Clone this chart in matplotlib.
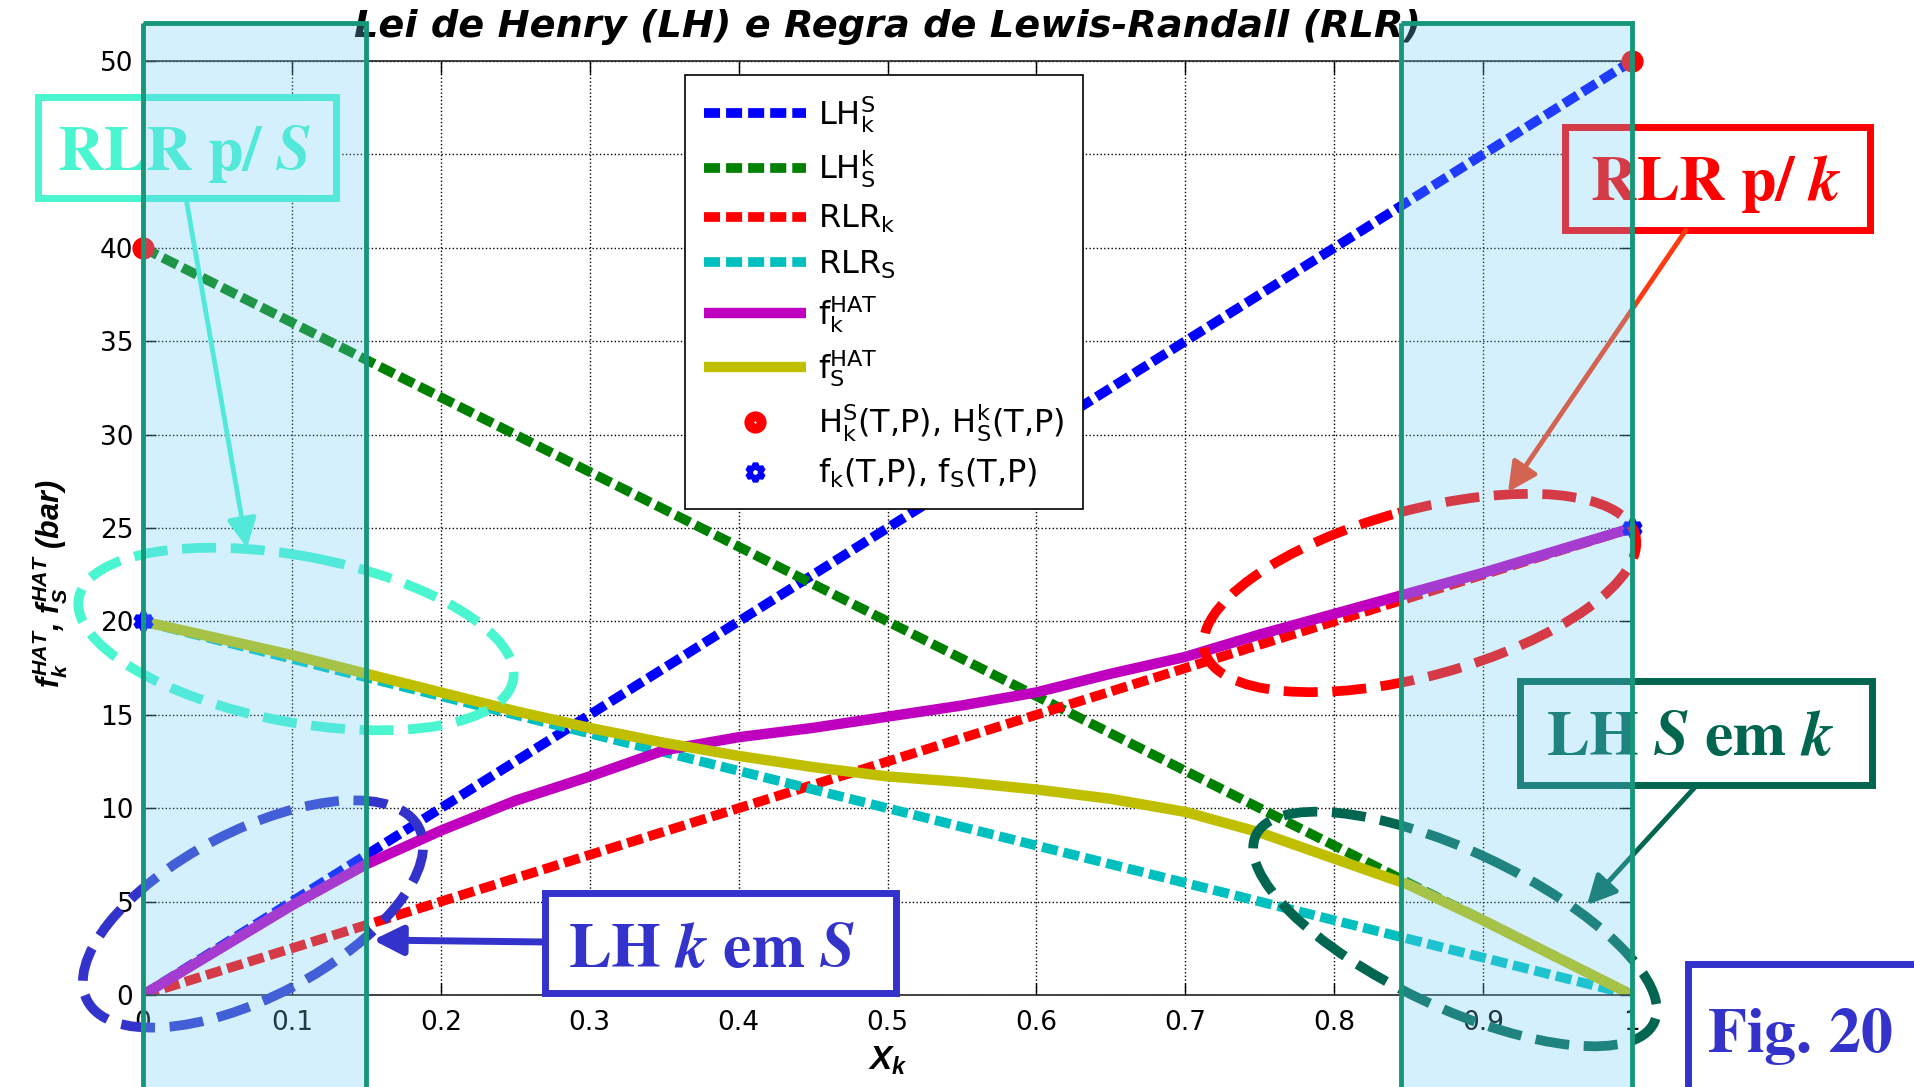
import matplotlib
matplotlib.use("Agg")
import matplotlib.pyplot as plt
from matplotlib.patches import Ellipse, Rectangle, FancyArrowPatch
from matplotlib.transforms import blended_transform_factory

plt.rcParams['font.family'] = ['DejaVu Sans']
plt.rcParams['mathtext.fontset'] = 'custom'
plt.rcParams['mathtext.rm'] = 'DejaVu Sans'
plt.rcParams['mathtext.it'] = 'Liberation Sans:italic:bold'
plt.rcParams['mathtext.bf'] = 'DejaVu Sans:bold'

# ---- data ----
x_ends = [0.0, 1.0]
lh_k_S = [0.0, 50.0]      # Henry's law for k in S
lh_S_k = [40.0, 0.0]      # Henry's law for S in k
rlr_k = [0.0, 25.0]       # Lewis-Randall rule for k
rlr_S = [20.0, 0.0]       # Lewis-Randall rule for S

x_k = [0.0, 0.05, 0.10, 0.15, 0.20, 0.25, 0.30, 0.35, 0.40, 0.45, 0.50,
       0.55, 0.60, 0.65, 0.70, 0.75, 0.80, 0.85, 0.90, 0.95, 1.0]
f_k_hat = [0.0, 2.4, 4.8, 7.0, 8.8, 10.4, 11.7, 13.1, 13.8, 14.3, 14.9,
           15.5, 16.2, 17.2, 18.1, 19.3, 20.4, 21.5, 22.6, 23.8, 25.0]
f_S_hat = [20.0, 19.1, 18.2, 17.2, 16.2, 15.2, 14.3, 13.5, 12.8, 12.2, 11.7,
           11.4, 11.0, 10.5, 9.8, 8.7, 7.3, 5.9, 4.0, 2.0, 0.0]

henry_x = [0.0, 1.0]
henry_y = [40.0, 50.0]
pure_x = [0.0, 1.0]
pure_y = [20.0, 25.0]

x_ticks = [0, 0.1, 0.2, 0.3, 0.4, 0.5, 0.6, 0.7, 0.8, 0.9, 1.0]
x_tick_labels = ['0', '0.1', '0.2', '0.3', '0.4', '0.5', '0.6', '0.7', '0.8', '0.9', '1']
y_ticks = [0, 5, 10, 15, 20, 25, 30, 35, 40, 45, 50]
y_tick_labels = ['0', '5', '10', '15', '20', '25', '30', '35', '40', '45', '50']

legend_labels = [
    'LH$_\\mathrm{k}^\\mathrm{S}$',
    'LH$_\\mathrm{S}^\\mathrm{k}$',
    'RLR$_\\mathrm{k}$',
    'RLR$_\\mathrm{S}$',
    'f$_\\mathrm{k}^\\mathrm{HAT}$',
    'f$_\\mathrm{S}^\\mathrm{HAT}$',
    'H$_\\mathrm{k}^\\mathrm{S}$(T,P), H$_\\mathrm{S}^\\mathrm{k}$(T,P)',
    'f$_\\mathrm{k}$(T,P), f$_\\mathrm{S}$(T,P)',
]

# shaded composition ranges
zone_left = (0.0, 0.15)
zone_right = (0.845, 1.0)

# ---- figure ----
W, H = 1914, 1087
fig = plt.figure(figsize=(W / 100, H / 100), dpi=100)
fig.patch.set_facecolor('white')

ax_l, ax_r, ax_t, ax_b = 143, 1632, 61, 995
ax = fig.add_axes([ax_l / W, 1 - ax_b / H, (ax_r - ax_l) / W, (ax_b - ax_t) / H])

dash = (0, (1.65, 0.62))
lw = 7
l1, = ax.plot(x_ends, lh_k_S, color=(0, 0, 1), lw=lw, ls=dash, dash_capstyle='butt')
l2, = ax.plot(x_ends, lh_S_k, color=(0, 0.5, 0), lw=lw, ls=dash, dash_capstyle='butt')
l3, = ax.plot(x_ends, rlr_k, color=(1, 0, 0), lw=lw, ls=dash, dash_capstyle='butt')
l4, = ax.plot(x_ends, rlr_S, color=(0, 0.75, 0.75), lw=lw, ls=dash, dash_capstyle='butt')
l5, = ax.plot(x_k, f_k_hat, color=(0.75, 0, 0.75), lw=lw + 0.5,
              solid_capstyle='butt', solid_joinstyle='round')
l6, = ax.plot(x_k, f_S_hat, color=(0.75, 0.75, 0), lw=lw + 0.5,
              solid_capstyle='butt', solid_joinstyle='round')
l7, = ax.plot(henry_x, henry_y, ls='none', marker='o', ms=9, mew=7,
              mfc='white', mec=(1, 0, 0), clip_on=False, zorder=5)
l8, = ax.plot(pure_x, pure_y, ls='none', marker=(6, 1, 0), ms=13, mew=4,
              mfc='white', mec=(0, 0, 1), clip_on=False, zorder=5)

ax.set_xlim(0, 1)
ax.set_ylim(0, 50)
ax.set_xticks(x_ticks)
ax.set_xticklabels(x_tick_labels)
ax.set_yticks(y_ticks)
ax.set_yticklabels(y_tick_labels)
ax.tick_params(direction='in', length=9, width=1, top=True, right=True, labelsize=19)
ax.tick_params(axis='x', pad=11)
ax.tick_params(axis='y', pad=7)
ax.grid(True, linestyle=':', color='k', linewidth=1)
ax.set_axisbelow(True)
for s in ax.spines.values():
    s.set_linewidth(1.2)
    s.set_color('#222222')

leg = ax.legend([l1, l2, l3, l4, l5, l6, l7, l8], legend_labels,
                loc='upper left', bbox_to_anchor=(685 / W, 1 - 75 / H),
                bbox_transform=fig.transFigure, borderaxespad=0,
                fontsize=23, handlelength=3.2, handletextpad=0.35,
                labelspacing=0.42, borderpad=0.6, numpoints=1,
                fancybox=False, framealpha=1, edgecolor='black')
leg.get_frame().set_linewidth(1.2)

# title and axis labels
fig.text(887 / W, 1 - 37 / H, 'Lei de Henry (LH) e Regra de Lewis-Randall (RLR)',
         ha='center', va='baseline', fontsize=27.5, fontweight='bold', style='italic')
fig.text(888 / W, 1 - 1070 / H, '$X_k$', ha='center', va='baseline', fontsize=24)
fig.text(50 / W, 1 - 584 / H, '$f_k^{HAT}$, $f_S^{HAT}$ (bar)', rotation=90,
         ha='center', va='center', fontsize=22, family='Liberation Sans',
         fontweight='bold', style='italic')

# ---- callouts, drawn on a pixel-based overlay ----
ov = fig.add_axes([0, 0, 1, 1], zorder=5)
ov.set_xlim(0, W)
ov.set_ylim(H, 0)
ov.axis('off')

turq = '#4af6cf'
navy = '#3333cc'
teal = '#00664f'
red = '#ff0000'
ell_dash = (0, (3.5, 1.5))


def ellipse(cx, cy, a, b, ang, color):
    ov.add_patch(Ellipse((cx, cy), 2 * a, 2 * b, angle=-ang, fill=False,
                         edgecolor=color, lw=7, ls=ell_dash, capstyle='butt'))


def box(x0, y0, x1, y1, color):
    ov.add_patch(Rectangle((x0, y0), x1 - x0, y1 - y0, facecolor='white',
                           edgecolor=color, lw=5, joinstyle='miter'))


def label(x, y, s, color):
    ov.text(x, y, s, ha='center', va='baseline', fontsize=46, color=color,
            math_fontfamily='stix')


def arrow(p0, p1, color, width):
    ov.add_patch(FancyArrowPatch(p0, p1, arrowstyle='-|>,head_length=0.8,head_width=0.4',
                                 mutation_scale=22, color=color, lw=width,
                                 shrinkA=0, shrinkB=0))


ellipse(296, 639, 221, 83, -10.7, turq)
ellipse(253, 914, 187, 83, 27.6, navy)
ellipse(1420, 593, 223, 83, 15.2, red)
ellipse(1455, 929, 220, 78, -25.2, teal)

box(38, 97, 336, 198, turq)
label(184, 170, r'$\mathbf{RLR\ p/\ }\mathbfit{S}$', turq)
arrow((186, 198), (247, 548), turq, 3.5)

box(1565, 127, 1870, 230, red)
label(1716, 200, r'$\mathbf{RLR\ p/\ }\mathbfit{k}$', red)
arrow((1686, 230), (1508, 492), '#ff3a10', 3.5)

box(545, 893, 896, 993, navy)
label(712, 967, r'$\mathbf{LH}\ \mathbfit{k}\ \mathbf{em}\ \mathbfit{S}$', navy)
arrow((545, 942), (373, 940), navy, 5)

box(1520, 681, 1872, 785, teal)
label(1690, 755, r'$\mathbf{LH}\ \mathbfit{S}\ \mathbf{em}\ \mathbfit{k}$', teal)
arrow((1697, 785), (1587, 905), teal, 3.5)

box(1688, 964, 1930, 1100, navy)
label(1800, 1052, r'$\mathbf{Fig.}\,\mathbf{20}$', navy)

# translucent bands marking the dilute regions
band_tr = blended_transform_factory(ax.transData, ov.transData)
for x0, x1 in (zone_left, zone_right):
    ov.add_patch(Rectangle((x0, 23), x1 - x0, 1100, transform=band_tr,
                           facecolor=(0.42, 0.80, 0.97, 0.29), edgecolor='none',
                           clip_on=False, zorder=10))
    ov.add_patch(Rectangle((x0, 23), x1 - x0, 1100, transform=band_tr,
                           facecolor='none', edgecolor='#17977a', lw=3.5,
                           clip_on=False, zorder=11))

fig.savefig('out.png', dpi=100)
